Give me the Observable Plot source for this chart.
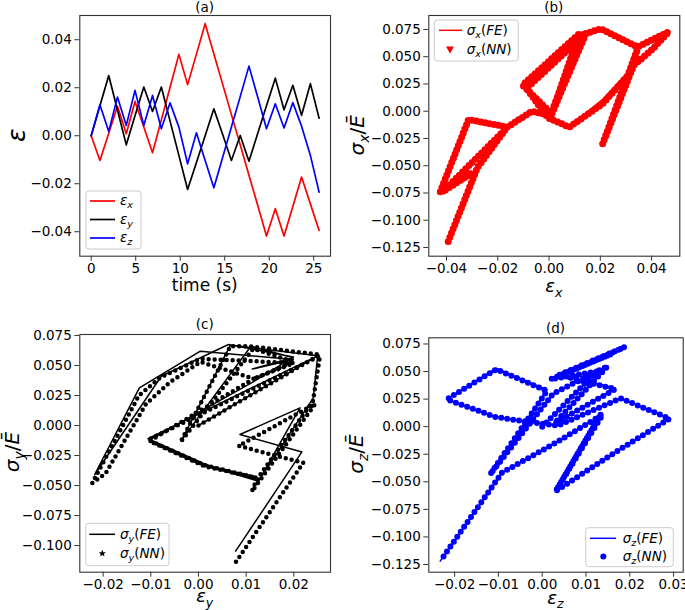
<!DOCTYPE html>
<html><head><meta charset="utf-8">
<script src="https://cdn.jsdelivr.net/npm/d3@7"></script>
<script src="https://cdn.jsdelivr.net/npm/@observablehq/plot@0.6"></script>
<style>
body{margin:0;background:#fff;}
#wrap{position:relative;width:685px;height:610px;overflow:hidden;font-family:"DejaVu Sans",sans-serif;background:#fff;}
#overlay{position:absolute;left:0;top:0;pointer-events:none;}
</style></head><body><div id="wrap"></div><script>
// ---- panel (a): strain histories ----
const time = [0,0.98,1.97,2.95,3.94,4.92,5.91,6.89,7.88,8.86,9.85,10.83,11.82,12.8,13.78,14.77,15.75,16.74,17.72,18.71,19.69,20.68,21.66,22.65,23.63,24.62,25.6];
const epsX = [0,-0.0103,0.0010,0.0123,0.0008,0.0143,0.0036,-0.0071,0.0066,0.0202,0.0339,0.0213,0.0340,0.0467,0.0341,0.0214,0.0088,-0.0038,-0.0165,-0.0291,-0.0418,-0.0304,-0.0418,-0.0295,-0.0172,-0.0284,-0.0395];
const epsY = [0,0.0125,0.0251,0.0107,-0.0038,0.0083,0.0203,0.0101,0.0203,0.0061,-0.0082,-0.0224,-0.0112,0.0000,0.0112,0.0005,-0.0103,0.0001,-0.0106,0.0010,0.0125,0.0240,0.0108,0.0210,0.0085,0.0217,0.0073];
const epsZ = [0,0.0129,0.0018,0.0161,0.0043,0.0189,0.0043,0.0168,0.0029,0.0137,0.0036,-0.0117,0.0012,-0.0103,-0.0217,-0.0090,0.0036,0.0163,0.0290,0.0160,0.0029,0.0133,0.0032,0.0138,0.0040,-0.0082,-0.0235];

// ---- panel (b): sigma_x / E vs eps_x ----
const bNNx = [0,-0.0103,0.0117,0.0008,0.0145,-0.0088,-0.0005,0.0079,0.0209,0.0313,0.0345,0.0209,0.0330,0.0404,0.0467,0.0345,0.0202,0.0125,0.0005,-0.0067,-0.0162,-0.0314,-0.0425,-0.0304,-0.0415,-0.0168,-0.0280,-0.0396];
const bNNy = [0,0.024,0.071,-0.004,0.072,0.021,-0.006,-0.0146,0.0068,0.0343,0.057,-0.030,0.042,0.057,0.073,0.0588,0.0756,0.070,-0.004,0.0,-0.0146,-0.0076,-0.0743,-0.057,-0.074,-0.016,-0.052,-0.121];
const bFEx = [0,-0.0103,0.0117,0.0008,0.0145,-0.0088,-0.0005,0.0079,0.0209,0.0313,0.0345,0.0209,0.0330,0.0404,0.0467,0.0345,0.0202,0.0125,0.0005,-0.0067,-0.0162,-0.0314,-0.0425,-0.0304,-0.0415,-0.0168,-0.0280,-0.0390];
const bFEy = [0,0.024,0.071,-0.004,0.072,0.021,-0.006,-0.0140,0.0110,0.0370,0.058,-0.029,0.043,0.059,0.074,0.0588,0.0756,0.070,-0.004,0.0,-0.0146,-0.0076,-0.0743,-0.057,-0.074,-0.016,-0.052,-0.115];

// ---- panel (c): sigma_y / E vs eps_y ----
const cNNx = [0,0.0255,0.0108,0.0067,-0.0038,0.0115,0.0200,0.0116,0.0200,0.0004,-0.0080,-0.0125,-0.0223,-0.0195,-0.0110,-0.0060,0.0004,0.0116,-0.0103,0.0013,0.0122,0.0013,-0.0106,0.0255,0.0240,0.0122,0.0112,0.0245,0.0084,0.0220,0.0078];
const cNNy = [0,0.059,0.066,0.066,-0.014,0.064,0.053,0.039,0.052,0.0556,0.040,0.025,-0.048,-0.040,0.018,0.036,0.053,0.039,-0.013,-0.034,-0.0436,-0.033,-0.012,0.058,0.020,-0.045,-0.055,0.018,-0.017,-0.031,-0.114];
const cFEx = [0,0.0250,0.0108,0.0067,-0.0035,0.0110,0.0199,0.0113,0.0199,0.0004,-0.0124,-0.0218,-0.0078,0.0063,0.0199,0.0113,-0.0103,0.0013,0.0126,0.0013,-0.0106,0.0250,0.0241,0.0126,0.0213,0.0087,0.0217,0.0078];
const cFEy = [0,0.058,0.065,0.067,-0.012,0.066,0.0564,0.047,0.055,0.0619,0.0314,-0.041,0.041,0.0675,0.057,0.036,-0.012,-0.033,-0.0464,-0.032,-0.011,0.058,0.023,-0.0464,0.0147,-0.0075,-0.022,-0.1047];

// ---- panel (d): sigma_z / E vs eps_z ----
const dNNx = [0,0.0125,0.0019,0.0158,0.0039,0.0189,0.0039,0.0167,0.0028,0.0150,0.0025,-0.0119,0.0011,-0.0105,-0.0218,-0.0107,-0.0047,0.0036,0.0179,0.0291,0.0160,0.0031,0.0135,0.0033,0.0138,0.0025,-0.0092,-0.0233];
const dNNy = [0,0.050,0.043,0.066,0.046,0.0723,0.047,0.034,0.003,0.055,0.030,-0.0433,0.0324,0.052,0.0248,0.0088,0.0052,0.001,0.0257,0.0073,-0.025,-0.0584,0.012,-0.057,0.011,-0.016,-0.0418,-0.122];
const dFEx = [0,0.0125,0.0019,0.0158,0.0039,0.0189,0.0039,0.0167,0.0028,0.0150,0.0025,-0.0119,0.0011,-0.0105,-0.0218,-0.0107,-0.0047,0.0036,0.0179,0.0291,0.0160,0.0031,0.0135,0.0033,0.0138,0.0025,-0.0092,-0.0233];
const dFEy = [0,0.050,0.043,0.066,0.046,0.0723,0.047,0.035,0.003,0.055,0.030,-0.0433,0.0335,0.0530,0.0248,0.0088,0.0052,0.001,0.0257,0.0073,-0.025,-0.0584,0.012,-0.057,0.011,-0.016,-0.0418,-0.122];

// tick values
const aXTicks = [0,5,10,15,20,25];
const aYTicks = [-0.04,-0.02,0,0.02,0.04];
const bXTicks = [-0.04,-0.02,0,0.02,0.04];
const bYTicks = [-0.125,-0.1,-0.075,-0.05,-0.025,0,0.025,0.05,0.075];
const cXTicks = [-0.02,-0.01,0,0.01,0.02];
const cYTicks = [-0.1,-0.075,-0.05,-0.025,0,0.025,0.05,0.075];
const dXTicks = [-0.02,-0.01,0,0.01,0.02,0.03];
const dYTicks = [-0.125,-0.1,-0.075,-0.05,-0.025,0,0.025,0.05,0.075];

const rows = (xs, ys) => xs.map((x, i) => ({x, y: ys[i]}));
const wrap = document.getElementById("wrap");

function panel(o) {
  const svg = Plot.plot({
    width: o.width, height: o.height,
    marginLeft: o.mL, marginRight: o.mR, marginTop: o.mT, marginBottom: o.mB,
    x: {domain: o.xDomain}, y: {domain: o.yDomain},
    style: {fontFamily: "DejaVu Sans", fontSize: "13.5px", color: "#000", background: "transparent", overflow: "visible"},
    marks: [
      ...o.marks,
      Plot.frame({stroke: "#333", strokeWidth: 1.1}),
      Plot.axisX({ticks: o.xTicks, tickFormat: o.xFmt, tickSize: 5, tickPadding: 2.5, label: null, stroke: "#333", fontSize: 13.5}),
      Plot.axisY({ticks: o.yTicks, tickFormat: o.yFmt, tickSize: 5, tickPadding: 3, label: null, stroke: "#333", fontSize: 13.5})
    ]
  });
  svg.style.position = "absolute";
  svg.style.left = o.left + "px";
  svg.style.top = o.top + "px";
  wrap.appendChild(svg);
}

const f2 = d3.format(".2f"), f3 = d3.format(".3f"), fd = d3.format("d");

// (a)
const aRows = time.map((t, i) => ({t, ex: epsX[i], ey: epsY[i], ez: epsZ[i]}));
panel({left: 0, top: 0, width: 340, height: 300, mL: 79.3, mR: 10, mT: 15, mB: 44.3,
  xDomain: [-1.28, 26.88], yDomain: [-0.0502, 0.0501], xTicks: aXTicks, yTicks: aYTicks, xFmt: fd, yFmt: f2,
  marks: [
    Plot.line(aRows, {x: "t", y: "ex", stroke: "#ff0000", strokeWidth: 1.7}),
    Plot.line(aRows, {x: "t", y: "ey", stroke: "#000000", strokeWidth: 1.7}),
    Plot.line(aRows, {x: "t", y: "ez", stroke: "#0000ff", strokeWidth: 1.7})
  ]});

// (b)
panel({left: 340, top: 0, width: 345, height: 300, mL: 88.3, mR: 5.7, mT: 15, mB: 44.3,
  xDomain: [-0.0469, 0.0510], yDomain: [-0.133, 0.0878], xTicks: bXTicks, yTicks: bYTicks, xFmt: f2, yFmt: f3,
  marks: [
    Plot.line(rows(bFEx, bFEy), {x: "x", y: "y", stroke: "#ff0000", strokeWidth: 1.5}),
    Plot.line(rows(bNNx, bNNy), {x: "x", y: "y", stroke: "#ff0000", strokeWidth: 7, strokeDasharray: "0 4.5", strokeLinecap: "round", strokeLinejoin: "round"})
  ]});

// (c)
panel({left: 0, top: 305, width: 340, height: 305, mL: 79.3, mR: 10, mT: 29, mB: 38.3,
  xDomain: [-0.0249, 0.0277], yDomain: [-0.1222, 0.0758], xTicks: cXTicks, yTicks: cYTicks, xFmt: f2, yFmt: f3,
  marks: [
    Plot.line(rows(cFEx, cFEy), {x: "x", y: "y", stroke: "#000", strokeWidth: 1.5}),
    Plot.line(rows(cNNx, cNNy), {x: "x", y: "y", stroke: "#000", strokeWidth: 4.5, strokeDasharray: "0 6", strokeLinecap: "round", strokeLinejoin: "round"})
  ]});

// (d)
panel({left: 340, top: 305, width: 345, height: 305, mL: 88.3, mR: 2.3, mT: 32.3, mB: 38.3,
  xDomain: [-0.0259, 0.0322], yDomain: [-0.132, 0.0806], xTicks: dXTicks, yTicks: dYTicks, xFmt: f2, yFmt: f3,
  marks: [
    Plot.line(rows(dFEx, dFEy), {x: "x", y: "y", stroke: "#0000ff", strokeWidth: 1.5}),
    Plot.line(rows(dNNx, dNNy), {x: "x", y: "y", stroke: "#0000ff", strokeWidth: 6, strokeDasharray: "0 6", strokeLinecap: "round", strokeLinejoin: "round"})
  ]});

// ---- overlay: titles, axis labels, legends ----
const it = (s, extra) => `<tspan font-style="italic"${extra || ""}>${s}</tspan>`;
// symbol with subscript; tail (if any) is shifted back to the baseline
const sym = (g, s, fs, d, tail) => it(g) + `<tspan font-style="italic" font-size="${fs}" dy="${d}">${s}</tspan>` + (tail ? tail(-d) : "");
const legTail = kind => back => `<tspan dy="${back}">(</tspan>${it(kind)}<tspan>)</tspan>`;
const ratioTail = back => `<tspan dy="${back}">/</tspan>${it("Ē")}`;
const legTxt = (g, s, kind) => sym(g, s, 9.5, 3, legTail(kind));

const ov = `
<svg id="overlay" width="685" height="610" xmlns="http://www.w3.org/2000/svg" font-family="DejaVu Sans" fill="#000">
  <g font-size="13.5" text-anchor="middle">
    <text x="204.7" y="11.5">(a)</text>
    <text x="553.8" y="11.5">(b)</text>
    <text x="204.7" y="329">(c)</text>
    <text x="555.5" y="333">(d)</text>
  </g>
  <text x="204.7" y="291" font-size="17" text-anchor="middle">time (s)</text>
  <text transform="translate(25,135.3) rotate(-90)" font-size="25" text-anchor="middle">${it("ε")}</text>
  <text x="553.8" y="292" font-size="18" text-anchor="middle">${sym("ε", "x", 12.5, 4.5)}</text>
  <text x="204.7" y="602" font-size="18" text-anchor="middle">${sym("ε", "y", 12.5, 4.5)}</text>
  <text x="555.5" y="603.5" font-size="18" text-anchor="middle">${sym("ε", "z", 12.5, 4)}</text>
  <text transform="translate(364,135.3) rotate(-90)" font-size="20" text-anchor="middle">${sym("σ", "x", 14, 5, ratioTail)}</text>
  <text transform="translate(18.5,452) rotate(-90)" font-size="20" text-anchor="middle">${sym("σ", "y", 14, 5, ratioTail)}</text>
  <text transform="translate(363,454) rotate(-90)" font-size="20" text-anchor="middle">${sym("σ", "z", 14, 5, ratioTail)}</text>

  <g font-size="13.5">
    <rect x="86" y="191" width="55" height="58" rx="3" fill="#fff" fill-opacity="0.8" stroke="#ccc"/>
    <line x1="90" x2="115" y1="201" y2="201" stroke="#ff0000" stroke-width="1.7"/>
    <line x1="90" x2="115" y1="219.5" y2="219.5" stroke="#000" stroke-width="1.7"/>
    <line x1="90" x2="115" y1="238" y2="238" stroke="#0000ff" stroke-width="1.7"/>
    <text x="120" y="205">${sym("ε", "x", 9.5, 3)}</text>
    <text x="120" y="223.5">${sym("ε", "y", 9.5, 3)}</text>
    <text x="120" y="242">${sym("ε", "z", 9.5, 3)}</text>

    <rect x="434.3" y="20" width="84" height="41" rx="3" fill="#fff" fill-opacity="0.8" stroke="#ccc"/>
    <line x1="439" x2="462" y1="30.3" y2="30.3" stroke="#ff0000" stroke-width="1.5"/>
    <path d="M446,46.5 L454,46.5 L450,53.5 Z" fill="#ff0000"/>
    <text x="466.7" y="34.5">${legTxt("σ", "x", "FE")}</text>
    <text x="466.7" y="54">${legTxt("σ", "x", "NN")}</text>

    <rect x="85.7" y="523.3" width="83.3" height="42.4" rx="3" fill="#fff" fill-opacity="0.8" stroke="#ccc"/>
    <line x1="89.3" x2="115" y1="534.3" y2="534.3" stroke="#000" stroke-width="1.5"/>
    <path d="M102.3,549.8 L103.3,552.2 L105.8,552.3 L103.9,553.9 L104.5,556.4 L102.3,555 L100.1,556.4 L100.7,553.9 L98.8,552.3 L101.3,552.2 Z" fill="#000"/>
    <text x="120" y="538.5">${legTxt("σ", "y", "FE")}</text>
    <text x="120" y="557.5">${legTxt("σ", "y", "NN")}</text>

    <rect x="585.7" y="527.7" width="87.6" height="39" rx="3" fill="#fff" fill-opacity="0.8" stroke="#ccc"/>
    <line x1="590" x2="616" y1="538.3" y2="538.3" stroke="#0000ff" stroke-width="1.5"/>
    <circle cx="603.3" cy="556.5" r="3" fill="#0000ff"/>
    <text x="622.7" y="542.5">${legTxt("σ", "z", "FE")}</text>
    <text x="622.7" y="561">${legTxt("σ", "z", "NN")}</text>
  </g>
</svg>`;
wrap.insertAdjacentHTML("beforeend", ov);
</script></body></html>
